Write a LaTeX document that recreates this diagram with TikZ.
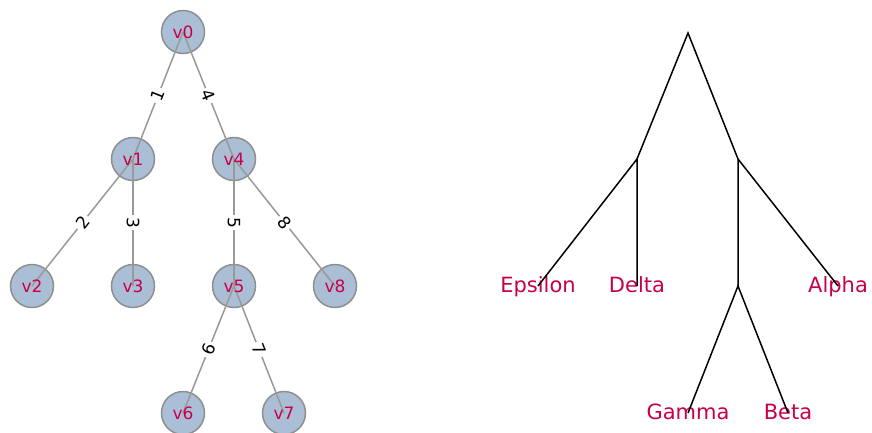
\documentclass[tikz,border=0pt]{standalone}
\usepackage{fontspec}
\setmainfont{DejaVu Sans}
\usepackage{xcolor}
\usepackage{tikz}

\definecolor{vfill}{HTML}{AABED5}
\definecolor{vdraw}{HTML}{8F8F8F}
\definecolor{vtext}{HTML}{C8004B}
\definecolor{egrey}{HTML}{999999}

\begin{document}
\begin{tikzpicture}[x=1pt,y=-1pt,
	vertex/.style={circle,fill=vfill,draw=vdraw,line width=1.5pt,minimum size=43pt,inner sep=0pt},
	vname/.style={text=vtext,font=\fontsize{17}{20}\selectfont,inner sep=0pt},
	wedge/.style={draw=egrey,line width=1.5pt},
	weight/.style={fill=white,inner sep=2.5pt,sloped,font=\fontsize{17}{20}\selectfont},
	leaf/.style={text=vtext,font=\fontsize{21}{24}\selectfont,inner sep=0pt,
		text height=18pt,text depth=5pt}]

\useasboundingbox (0,0) rectangle (872,432);

% weighted tree
\foreach \n/\x/\y in {0/183/32, 1/133/159, 4/234/159, 2/32/286, 3/133/286,
	5/234/286, 8/335/286, 6/183/413, 7/284/413}
	\node[vertex] (v\n) at (\x,\y) {};

\foreach \a/\b in {0/1, 0/4, 1/2, 1/3, 4/5, 4/8, 5/6, 5/7}
	\draw[wedge] (v\a.center) -- node[weight] {\b} (v\b.center);

\foreach \n in {0,...,8}
	\node[vname] at (v\n) {v\n};

% dendrogram
\coordinate (r) at (688,33);
\coordinate (p) at (637,159);
\coordinate (q) at (738,159);
\coordinate (s) at (738,286);

\node[leaf] (eps) at (538,286) {Epsilon};
\node[leaf] (del) at (637,286) {Delta};
\node[leaf] (alp) at (838,286) {Alpha};
\node[leaf] (gam) at (688,413) {Gamma};
\node[leaf] (bet) at (788,413) {Beta};

\draw[line width=1.5pt] (p) -- (r) -- (q);
\draw[line width=1.5pt] (eps.center) -- (p) -- (del.center);
\draw[line width=1.5pt] (s) -- (q) -- (alp.center);
\draw[line width=1.5pt] (gam.center) -- (s) -- (bet.center);

\end{tikzpicture}
\end{document}
